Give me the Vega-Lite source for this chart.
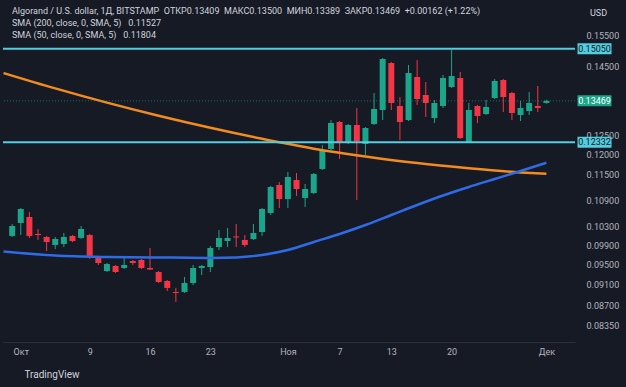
{
  "$schema": "https://vega.github.io/schema/vega-lite/v6.json",
  "width": 572,
  "height": 339,
  "autosize": "none",
  "padding": {"left": 3, "top": 3, "right": 51, "bottom": 45},
  "background": "#161a25",
  "title": {
    "text": "Algorand / U.S. dollar, 1Д, BITSTAMP\u2002ОТКР0.13409\u2002МАКС0.13500\u2002МИН0.13389\u2002ЗАКР0.13469\u2002+0.00162 (+1.22%)",
    "subtitle": ["SMA (200, close, 0, SMA, 5)\u2002 0.11527", "SMA (50, close, 0, SMA, 5)\u2002 0.11804"],
    "anchor": "start",
    "frame": "group",
    "orient": "top",
    "offset": -37,
    "dx": 9,
    "font": "Roboto",
    "fontSize": 9,
    "fontWeight": "normal",
    "color": "#d1d4dc",
    "subtitleFont": "Roboto",
    "subtitleFontSize": 9,
    "subtitleColor": "#d1d4dc",
    "subtitlePadding": 3,
    "subtitleLineHeight": 12
  },
  "datasets": {
    "candles": [
      {"d":"2023-09-30","o":0.10097,"h":0.10358,"l":0.10075,"c":0.10314},
      {"d":"2023-10-01","o":0.10380,"h":0.10718,"l":0.10118,"c":0.10695},
      {"d":"2023-10-02","o":0.10514,"h":0.10627,"l":0.10054,"c":0.10097},
      {"d":"2023-10-03","o":0.10140,"h":0.10248,"l":0.10011,"c":0.10118},
      {"d":"2023-10-04","o":0.10075,"h":0.10097,"l":0.09779,"c":0.09968},
      {"d":"2023-10-05","o":0.09905,"h":0.10075,"l":0.09820,"c":0.10032},
      {"d":"2023-10-06","o":0.09926,"h":0.10161,"l":0.09862,"c":0.10075},
      {"d":"2023-10-07","o":0.10097,"h":0.10118,"l":0.09968,"c":0.09989},
      {"d":"2023-10-08","o":0.10054,"h":0.10314,"l":0.10032,"c":0.10248},
      {"d":"2023-10-09","o":0.10118,"h":0.10140,"l":0.09613,"c":0.09675},
      {"d":"2023-10-10","o":0.09634,"h":0.09675,"l":0.09491,"c":0.09531},
      {"d":"2023-10-11","o":0.09370,"h":0.09531,"l":0.09350,"c":0.09511},
      {"d":"2023-10-12","o":0.09471,"h":0.09491,"l":0.09330,"c":0.09350},
      {"d":"2023-10-13","o":0.09430,"h":0.09634,"l":0.09410,"c":0.09491},
      {"d":"2023-10-14","o":0.09572,"h":0.09593,"l":0.09491,"c":0.09531},
      {"d":"2023-10-15","o":0.09593,"h":0.09613,"l":0.09410,"c":0.09430},
      {"d":"2023-10-16","o":0.09430,"h":0.09841,"l":0.09390,"c":0.09400},
      {"d":"2023-10-17","o":0.09350,"h":0.09370,"l":0.09133,"c":0.09153},
      {"d":"2023-10-18","o":0.09172,"h":0.09192,"l":0.08979,"c":0.09037},
      {"d":"2023-10-19","o":0.08960,"h":0.09037,"l":0.08771,"c":0.08941},
      {"d":"2023-10-20","o":0.08960,"h":0.09251,"l":0.08941,"c":0.09133},
      {"d":"2023-10-21","o":0.09133,"h":0.09491,"l":0.09094,"c":0.09430},
      {"d":"2023-10-22","o":0.09430,"h":0.09491,"l":0.09290,"c":0.09471},
      {"d":"2023-10-23","o":0.09450,"h":0.09883,"l":0.09350,"c":0.09841},
      {"d":"2023-10-24","o":0.09862,"h":0.10227,"l":0.09799,"c":0.10054},
      {"d":"2023-10-25","o":0.09989,"h":0.10270,"l":0.09862,"c":0.10054},
      {"d":"2023-10-26","o":0.10086,"h":0.10358,"l":0.09862,"c":0.10065},
      {"d":"2023-10-27","o":0.10011,"h":0.10118,"l":0.09862,"c":0.09905},
      {"d":"2023-10-28","o":0.10032,"h":0.10358,"l":0.10011,"c":0.10161},
      {"d":"2023-10-29","o":0.10183,"h":0.10718,"l":0.10097,"c":0.10695},
      {"d":"2023-10-30","o":0.10604,"h":0.11233,"l":0.10559,"c":0.11209},
      {"d":"2023-10-31","o":0.11256,"h":0.11329,"l":0.10718,"c":0.10925},
      {"d":"2023-11-01","o":0.10925,"h":0.11573,"l":0.10718,"c":0.11450},
      {"d":"2023-11-02","o":0.11377,"h":0.11548,"l":0.10996,"c":0.11161},
      {"d":"2023-11-03","o":0.10949,"h":0.11281,"l":0.10741,"c":0.11161},
      {"d":"2023-11-04","o":0.11066,"h":0.11548,"l":0.11043,"c":0.11524},
      {"d":"2023-11-05","o":0.11647,"h":0.12259,"l":0.11622,"c":0.12129},
      {"d":"2023-11-06","o":0.12155,"h":0.12930,"l":0.12129,"c":0.12848},
      {"d":"2023-11-07","o":0.12875,"h":0.12903,"l":0.11898,"c":0.12337},
      {"d":"2023-11-08","o":0.12311,"h":0.12820,"l":0.12285,"c":0.12793},
      {"d":"2023-11-09","o":0.12793,"h":0.13265,"l":0.10902,"c":0.12364},
      {"d":"2023-11-10","o":0.12285,"h":0.12739,"l":0.12000,"c":0.12711},
      {"d":"2023-11-11","o":0.12820,"h":0.13697,"l":0.12793,"c":0.13237},
      {"d":"2023-11-12","o":0.13209,"h":0.14758,"l":0.12930,"c":0.14727},
      {"d":"2023-11-13","o":0.14601,"h":0.14633,"l":0.13209,"c":0.13408},
      {"d":"2023-11-14","o":0.13322,"h":0.13580,"l":0.12390,"c":0.12875},
      {"d":"2023-11-15","o":0.12930,"h":0.14539,"l":0.12903,"c":0.14293},
      {"d":"2023-11-16","o":0.14172,"h":0.14695,"l":0.13350,"c":0.13522},
      {"d":"2023-11-17","o":0.13638,"h":0.14022,"l":0.13013,"c":0.13408},
      {"d":"2023-11-18","o":0.12985,"h":0.13494,"l":0.12848,"c":0.13408},
      {"d":"2023-11-19","o":0.13322,"h":0.14233,"l":0.13265,"c":0.14142},
      {"d":"2023-11-20","o":0.13873,"h":0.15012,"l":0.13843,"c":0.14202},
      {"d":"2023-11-21","o":0.14142,"h":0.14324,"l":0.12417,"c":0.12443},
      {"d":"2023-11-22","o":0.12337,"h":0.13408,"l":0.12311,"c":0.13209},
      {"d":"2023-11-23","o":0.13322,"h":0.13350,"l":0.12848,"c":0.13041},
      {"d":"2023-11-24","o":0.13097,"h":0.13494,"l":0.13069,"c":0.13294},
      {"d":"2023-11-25","o":0.13551,"h":0.14112,"l":0.13522,"c":0.14052},
      {"d":"2023-11-26","o":0.14082,"h":0.14112,"l":0.13153,"c":0.13580},
      {"d":"2023-11-27","o":0.13697,"h":0.13726,"l":0.12930,"c":0.13125},
      {"d":"2023-11-28","o":0.13069,"h":0.13465,"l":0.12903,"c":0.13265},
      {"d":"2023-11-29","o":0.13181,"h":0.13726,"l":0.13069,"c":0.13408},
      {"d":"2023-11-30","o":0.13322,"h":0.13903,"l":0.13153,"c":0.13265},
      {"d":"2023-12-01","o":0.13409,"h":0.13500,"l":0.13389,"c":0.13469}
    ],
    "sma200": [
      {"d":"2023-09-29","v":0.14293},
      {"d":"2023-10-05","v":0.13831},
      {"d":"2023-10-11","v":0.13417},
      {"d":"2023-10-17","v":0.13047},
      {"d":"2023-10-23","v":0.12717},
      {"d":"2023-10-29","v":0.12422},
      {"d":"2023-11-04","v":0.12163},
      {"d":"2023-11-10","v":0.11962},
      {"d":"2023-11-16","v":0.11794},
      {"d":"2023-11-22","v":0.11665},
      {"d":"2023-11-28","v":0.11561},
      {"d":"2023-12-01","v":0.11527}
    ],
    "sma50": [
      {"d":"2023-09-29","v":0.09768},
      {"d":"2023-10-05","v":0.09685},
      {"d":"2023-10-11","v":0.09654},
      {"d":"2023-10-17","v":0.09644},
      {"d":"2023-10-23","v":0.09634},
      {"d":"2023-10-26","v":0.09644},
      {"d":"2023-10-29","v":0.09696},
      {"d":"2023-11-01","v":0.09799},
      {"d":"2023-11-04","v":0.09968},
      {"d":"2023-11-07","v":0.10140},
      {"d":"2023-11-10","v":0.10336},
      {"d":"2023-11-13","v":0.10559},
      {"d":"2023-11-16","v":0.10787},
      {"d":"2023-11-19","v":0.11007},
      {"d":"2023-11-22","v":0.11209},
      {"d":"2023-11-25","v":0.11401},
      {"d":"2023-11-28","v":0.11598},
      {"d":"2023-12-01","v":0.11804}
    ],
    "levels": [
      {"level":0.1505,"kind":"line"},
      {"level":0.12332,"kind":"line"}
    ],
    "tags": [
      {"level":0.1505,"kind":"line"},
      {"level":0.12332,"kind":"line"},
      {"level":0.13469,"kind":"last"}
    ]
  },
  "layer": [
    {
      "data": {"name": "candles"},
      "mark": {"type": "rule", "strokeWidth": 1},
      "encoding": {
        "x": {
          "field": "d", "type": "temporal",
          "scale": {"type": "utc", "domain": [
            {"year": 2023, "month": 9, "date": 29, "hours": 12, "minutes": 26, "utc": true},
            {"year": 2023, "month": 12, "date": 3, "hours": 17, "minutes": 45, "utc": true}
          ]},
          "axis": {
            "title": "TradingView",
            "titleColor": "#d1d4dc",
            "titleFont": "Roboto",
            "titleFontSize": 10,
            "titleFontWeight": "normal",
            "titleAnchor": "start",
            "titleAlign": "left",
            "titleBaseline": "middle",
            "titleX": 21,
            "titleY": 32,
            "values": [
              {"year": 2023, "month": 10, "date": 1, "utc": true},
              {"year": 2023, "month": 10, "date": 9, "utc": true},
              {"year": 2023, "month": 10, "date": 16, "utc": true},
              {"year": 2023, "month": 10, "date": 23, "utc": true},
              {"year": 2023, "month": 11, "date": 1, "utc": true},
              {"year": 2023, "month": 11, "date": 7, "utc": true},
              {"year": 2023, "month": 11, "date": 13, "utc": true},
              {"year": 2023, "month": 11, "date": 20, "utc": true},
              {"year": 2023, "month": 12, "date": 1, "utc": true}
            ],
            "labelExpr": "utcdate(datum.value) == 1 ? (utcmonth(datum.value) == 9 ? 'Окт' : (utcmonth(datum.value) == 10 ? 'Ноя' : 'Дек')) : '' + utcdate(datum.value)",
            "grid": false,
            "ticks": false,
            "domain": true,
            "domainColor": "#2a2e39",
            "labelColor": "#b2b5be",
            "labelFont": "Roboto",
            "labelFontSize": 9,
            "labelPadding": 5,
            "labelFlush": false
          }
        },
        "y": {
          "field": "l", "type": "quantitative",
          "scale": {"type": "log", "domain": [0.08053, 0.16595], "nice": false, "zero": false},
          "axis": {
            "orient": "right",
            "title": "USD",
            "titleAngle": 0,
            "titleColor": "#d1d4dc",
            "titleFont": "Roboto",
            "titleFontSize": 9,
            "titleFontWeight": "normal",
            "titleAlign": "center",
            "titleBaseline": "middle",
            "titleX": 23,
            "titleY": 9,
            "values": [0.155, 0.145, 0.125, 0.12, 0.115, 0.109, 0.103, 0.099, 0.095, 0.091, 0.087, 0.0835],
            "format": ".5f",
            "grid": false,
            "ticks": false,
            "domain": false,
            "labelColor": "#b2b5be",
            "labelFont": "Roboto",
            "labelFontSize": 9,
            "labelPadding": 11
          }
        },
        "y2": {"field": "h"},
        "color": {"condition": {"test": "datum.c >= datum.o", "value": "#1ba58b"}, "value": "#f23645"}
      }
    },
    {
      "data": {"name": "candles"},
      "mark": {"type": "bar", "width": 6},
      "encoding": {
        "x": {"field": "d", "type": "temporal"},
        "y": {"field": "o", "type": "quantitative"},
        "y2": {"field": "c"},
        "color": {"condition": {"test": "datum.c >= datum.o", "value": "#1ba58b"}, "value": "#f23645"}
      }
    },
    {
      "data": {"name": "sma200"},
      "mark": {"type": "line", "color": "#f38b1f", "strokeWidth": 2.5, "interpolate": "monotone", "clip": true},
      "encoding": {
        "x": {"field": "d", "type": "temporal"},
        "y": {"field": "v", "type": "quantitative"}
      }
    },
    {
      "data": {"name": "sma50"},
      "mark": {"type": "line", "color": "#2e6be6", "strokeWidth": 2.5, "interpolate": "monotone", "clip": true},
      "encoding": {
        "x": {"field": "d", "type": "temporal"},
        "y": {"field": "v", "type": "quantitative"}
      }
    },
    {
      "data": {"name": "levels"},
      "mark": {"type": "rule", "color": "#55cde0", "strokeWidth": 2},
      "encoding": {
        "y": {"field": "level", "type": "quantitative"}
      }
    },
    {
      "data": {"name": "tags"},
      "mark": {"type": "rule", "color": "#1ba58b", "strokeWidth": 1, "strokeDash": [1, 2], "opacity": 0.6},
      "transform": [{"filter": "datum.kind == 'last'"}],
      "encoding": {
        "y": {"field": "level", "type": "quantitative"}
      }
    },
    {
      "data": {"name": "tags"},
      "mark": {"type": "point", "shape": "M -1 -0.3235 L 1 -0.3235 L 1 0.3235 L -1 0.3235 Z", "size": 1156, "filled": true, "opacity": 1, "strokeWidth": 0},
      "encoding": {
        "x": {"datum": {"year": 2023, "month": 12, "date": 6, "hours": 14, "utc": true}, "type": "temporal"},
        "y": {"field": "level", "type": "quantitative"},
        "color": {"condition": {"test": "datum.kind == 'last'", "value": "#1ba58b"}, "value": "#55cde0"}
      }
    },
    {
      "data": {"name": "tags"},
      "mark": {"type": "text", "font": "Roboto", "fontSize": 9, "align": "center", "baseline": "middle"},
      "encoding": {
        "x": {"datum": {"year": 2023, "month": 12, "date": 6, "hours": 14, "utc": true}, "type": "temporal"},
        "y": {"field": "level", "type": "quantitative"},
        "text": {"field": "level", "type": "quantitative", "format": ".5f"},
        "color": {"condition": {"test": "datum.kind == 'last'", "value": "#ffffff"}, "value": "#131722"}
      }
    }
  ],
  "config": {
    "view": {"stroke": null, "fill": "#161a25"},
    "font": "Roboto"
  }
}
